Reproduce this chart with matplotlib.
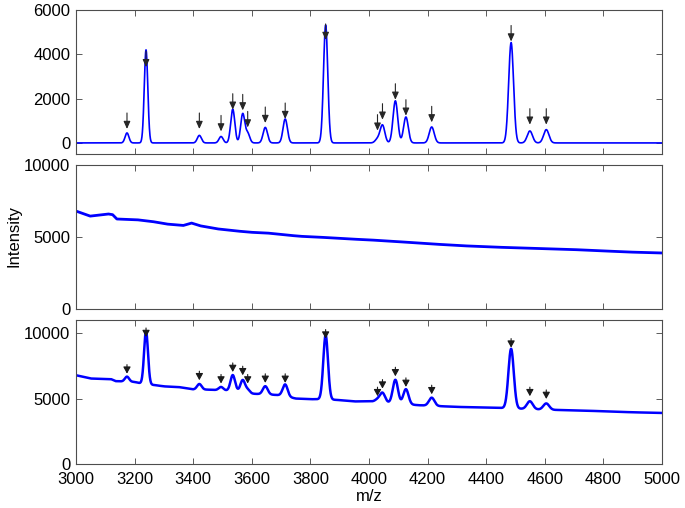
import numpy as np
import matplotlib
matplotlib.use('Agg')
import matplotlib.pyplot as plt

plt.rcParams['font.family'] = ['Liberation Sans', 'DejaVu Sans']

# ---- data ----
peak_mz = [3174, 3239, 3421, 3495, 3535, 3569, 3586, 3646, 3714, 3852,
           4029, 4046, 4090, 4126, 4214, 4485, 4549, 4605]
# top panel (clean spectrum) peak heights
peak_height_clean = [450, 4200, 340, 290, 1520, 1310, 430, 700, 1080, 5320,
                     170, 800, 1900, 1170, 720, 4530, 540, 600]
peak_sigma = [6.5, 6.0, 7, 7, 7, 7, 7, 7.5, 7.5, 7.2,
              8, 8, 8, 8, 8.5, 8.3, 9, 9]
arrow_tip_clean = [630, 3420, 630, 520, 1500, 1470, 700, 900, 1080, 4650,
                   555, 1050, 1950, 1230, 930, 4580, 825, 825]

# bottom panel (raw spectrum) peak heights above baseline
peak_height_raw = [380, 4050, 420, 250, 1200, 900, 250, 620, 900, 4900,
                   180, 720, 1800, 1150, 620, 4550, 600, 480]
arrow_tip_raw = [6900, 9700, 6400, 6150, 7030, 6780, 6150, 6200, 6200, 9580,
                 5180, 5760, 6700, 5890, 5330, 8890, 5180, 4970]

# middle panel baseline
base_mid_mz = [3000, 3048, 3110, 3125, 3139, 3207, 3259, 3309, 3366, 3394,
               3423, 3480, 3537, 3594, 3651, 3707, 3764, 3821, 3878, 3935,
               3992, 4083, 4197, 4311, 4424, 4538, 4652, 4765, 4879, 5000]
base_mid = [6800, 6450, 6600, 6550, 6250, 6200, 6080, 5900, 5800, 5970,
            5780, 5570, 5440, 5330, 5280, 5160, 5050, 5000, 4930, 4860,
            4810, 4700, 4540, 4400, 4300, 4230, 4165, 4070, 3960, 3890]

# bottom panel baseline
base_raw_mz = [3000, 3050, 3120, 3135, 3200, 3225, 3275, 3300, 3350, 3400,
               3450, 3500, 3550, 3600, 3650, 3700, 3750, 3800, 3850, 3900,
               3950, 4000, 4170, 4300, 4420, 4600, 4700, 4800, 4900, 5000]
base_raw = [6780, 6530, 6480, 6330, 6270, 6140, 6010, 5930, 5880, 5700,
            5680, 5630, 5580, 5370, 5320, 5250, 5000, 4950, 4950, 4880,
            4780, 4790, 4490, 4360, 4310, 4150, 4100, 4030, 3950, 3900]

xticks = [3000, 3200, 3400, 3600, 3800, 4000, 4200, 4400, 4600, 4800, 5000]

# ---- build curves ----
mz = np.arange(3000, 5000.01, 0.5)
clean = np.zeros_like(mz)
raw_peaks = np.zeros_like(mz)
for p, hc, hr, s in zip(peak_mz, peak_height_clean, peak_height_raw, peak_sigma):
    clean += hc * np.exp(-0.5 * ((mz - p) / s) ** 2)
    raw_peaks += hr * np.exp(-0.5 * ((mz - p) / (s * 1.1)) ** 2)
mid = np.interp(mz, base_mid_mz, base_mid)
raw = np.interp(mz, base_raw_mz, base_raw) + raw_peaks

# ---- figure ----
W, H = 685, 508
fig = plt.figure(figsize=(W / 100, H / 100), dpi=100)
left = 76 / W
width = (662 - 76) / W

def make_ax(top_px, bot_px):
    return fig.add_axes([left, 1 - bot_px / H, width, (bot_px - top_px) / H])

ax1 = make_ax(10, 154)
ax2 = make_ax(165, 309)
ax3 = make_ax(320, 464)

blue = '#0000ff'
ax1.plot(mz, clean, color=blue, lw=1.2)
ax2.plot(mz, mid, color=blue, lw=2.0)
ax3.plot(mz, raw, color=blue, lw=1.8)

ax1.set_ylim(-500, 6000)
ax1.set_yticks([0, 2000, 4000, 6000])
ax2.set_ylim(0, 10000)
ax2.set_yticks([0, 5000, 10000])
ax3.set_ylim(0, 11000)
ax3.set_yticks([0, 5000, 10000])

for ax in (ax1, ax2, ax3):
    ax.set_xlim(3000, 5000)
    ax.set_xticks(xticks)
    ax.tick_params(direction='in', length=4, width=0.6, top=True, right=True,
                   labelsize=12, color='0.25')
    ax.tick_params(axis='y', pad=4)
    ax.tick_params(axis='x', pad=6)
    for sp in ax.spines.values():
        sp.set_color('0.3')
        sp.set_linewidth(0.8)
ax1.set_xticklabels([])
ax2.set_xticklabels([])
ax3.set_xticklabels([str(t) for t in xticks])

arrow_top = dict(arrowstyle='-|>,head_length=0.45,head_width=0.2',
                 color='0.15', lw=0.8, shrinkA=0, shrinkB=0)
for p, t in zip(peak_mz, arrow_tip_clean):
    ax1.annotate('', xy=(p, t), xytext=(0, 11.5), textcoords='offset points',
                 arrowprops=arrow_top)
arrow_bot = dict(arrowstyle='-|>,head_length=0.4,head_width=0.22',
                 color='0.1', lw=0.8, shrinkA=0, shrinkB=0)
for p, t in zip(peak_mz, arrow_tip_raw):
    ax3.annotate('', xy=(p, t), xytext=(0, 6.5), textcoords='offset points',
                 arrowprops=arrow_bot)

fig.text(14 / W, 1 - 236 / H, 'Intensity', rotation=90, ha='center', va='center',
         fontsize=12)
ax3.set_xlabel('m/z', fontsize=12, labelpad=1)

fig.savefig('out.png', dpi=100)
